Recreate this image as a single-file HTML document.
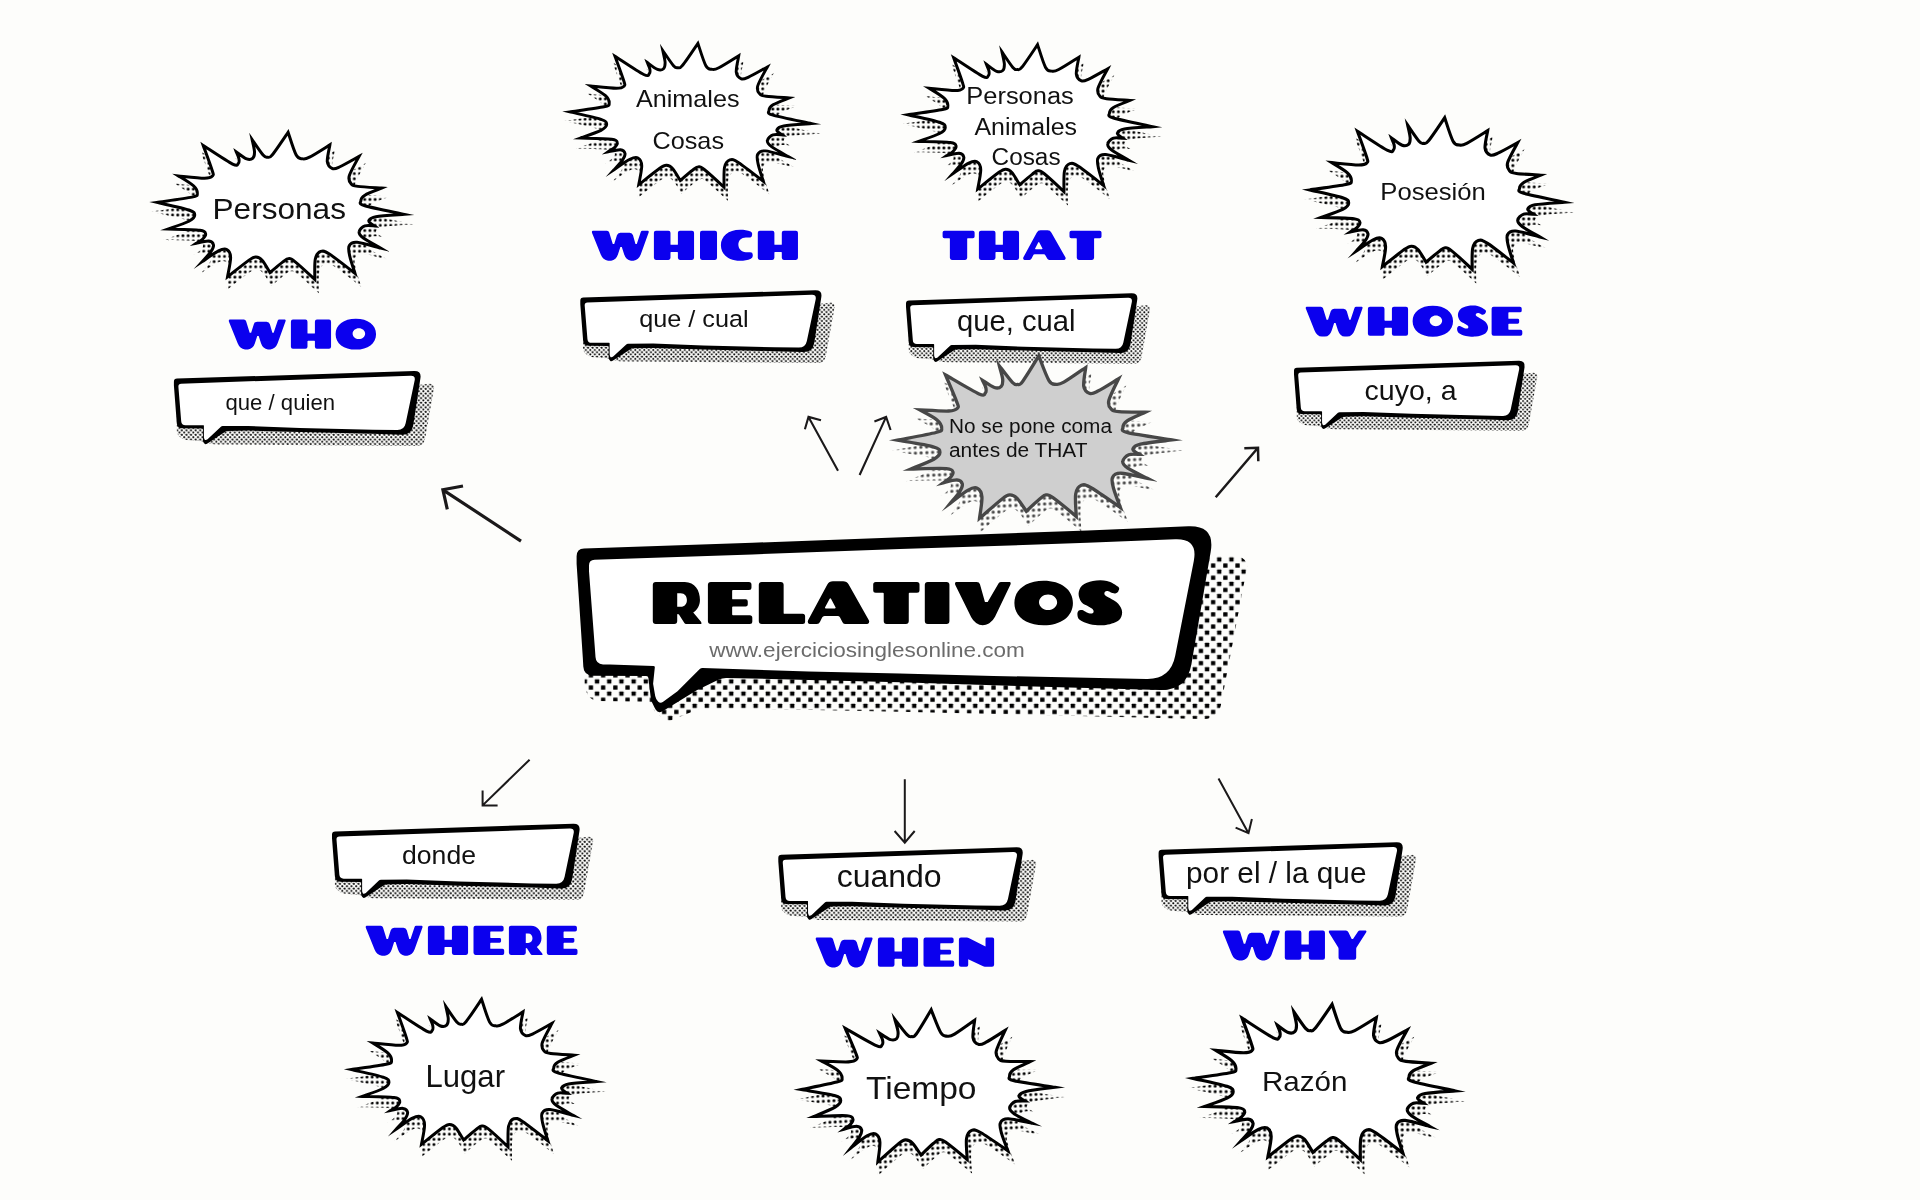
<!DOCTYPE html><html><head><meta charset="utf-8"><title>Relativos</title><style>html,body{margin:0;padding:0;background:#fdfdfb;}body{width:1920px;height:1200px;overflow:hidden;font-family:"Liberation Sans",sans-serif;}svg{display:block;position:absolute;left:0;top:0;will-change:transform;}text{font-family:"Liberation Sans",sans-serif;}</style></head><body>
<svg width="1920" height="1200" viewBox="0 0 1920 1200">
<defs>
<pattern id="dots" width="4.6" height="4.6" patternUnits="userSpaceOnUse"><rect x="0.25" y="0.25" width="1.85" height="1.85" rx="0.45" fill="#000"/><rect x="2.55" y="2.55" width="1.85" height="1.85" rx="0.45" fill="#000"/></pattern>
<pattern id="bdots" width="4.9" height="4.9" patternUnits="userSpaceOnUse"><rect x="1.2" y="1.2" width="2.5" height="2.5" rx="0.4" fill="#000"/></pattern>
<pattern id="cdots" width="12.2" height="12.2" patternUnits="userSpaceOnUse" patternTransform="translate(3 2)"><rect x="0.2" y="0.2" width="4.3" height="4.3" rx="0.5" fill="#000"/><rect x="6.3" y="6.3" width="4.3" height="4.3" rx="0.5" fill="#000"/></pattern>
<pattern id="bdotsg" width="4.9" height="4.9" patternUnits="userSpaceOnUse"><rect x="1.2" y="1.2" width="2.5" height="2.5" rx="0.4" fill="#4a4a4a"/></pattern>
<radialGradient id="fade" cx="0.5" cy="0.47" r="0.65"><stop offset="0.7" stop-color="#fff"/><stop offset="1" stop-color="#000"/></radialGradient>
<path id="gH" d="M0 7Q0 0 7 0L50 0Q57 0 57 7L57 46Q57 48 59 48L80.5 48Q82.5 48 82.5 46L82.5 7Q82.5 0 89.5 0L131 0Q138 0 138 7L138 93Q138 100 131 100L89.5 100Q82.5 100 82.5 93L82.5 74.5Q82.5 72.5 80.5 72.5L59 72.5Q57 72.5 57 74.5L57 93Q57 100 50 100L7 100Q0 100 0 93Z"/>
<path id="gI" d="M0 7Q0 0 7 0L51.5 0Q58.5 0 58.5 7L58.5 93Q58.5 100 51.5 100L7 100Q0 100 0 93Z"/>
<path id="gE" d="M0 7Q0 0 7 0L97.5 0Q103.5 0 103.5 6L103.5 13.5Q103.5 19.5 97.5 19.5L59.6 19.5Q57.6 19.5 57.6 21.5L57.6 39.5Q57.6 41.5 59.6 41.5L89.7 41.5Q94.7 41.5 94.7 46.5L94.7 53.5Q94.7 58.5 89.7 58.5L59.6 58.5Q57.6 58.5 57.6 60.5L57.6 77Q57.6 79 59.6 79L99.5 79Q105.5 79 105.5 85L105.5 94Q105.5 100 99.5 100L7 100Q0 100 0 93Z"/>
<path id="gL" d="M0 7Q0 0 7 0L52 0Q59 0 59 7L59 73.7Q59 75.7 61 75.7L104 75.7Q110 75.7 110 81.7L110 94Q110 100 104 100L7 100Q0 100 0 93Z"/>
<path id="gT" d="M0 6Q0 0 6 0L104 0Q110 0 110 6L110 19.7Q110 25.7 104 25.7L86.5 25.7Q84.5 25.7 84.5 27.7L84.5 93Q84.5 100 77.5 100L32 100Q25 100 25 93L25 27.7Q25 25.7 23 25.7L6 25.7Q0 25.7 0 19.7Z"/>
<path id="gA" d="M45.7 6.4Q50 -1.5 59 -1.5L83 -1.5Q92 -1.5 96.4 6.3L144.3 91.1Q146 94 144.5 97L144.5 97Q143 100 139.6 100L89 100Q84 100 81.7 95.6L75.9 84.5Q74 81 70 81L39 81Q35 81 33.3 84.6L28.1 95.5Q26 100 21 100L4.2 100Q1 100 -0.2 97L-0.2 97Q-1.5 94 0 91.1ZM50.9 40.5Q52.8 37 54.7 40.5L65.1 60.3Q66.5 63 63.5 63L42 63Q39 63 40.4 60.4Z"/>
<path id="gV" d="M-1.5 2.5Q-1 0 1.5 0L50 0Q56 0 57.6 5.8L69.5 48L76 48L102 3.5Q104 0 108 0L127.9 0Q130 0 130.5 2L130.5 2Q131 4 130.1 5.9L93.4 82.9Q89 92 80.5 97.5L78.7 98.7Q72 103 64 103L64 103Q56 103 49.5 98.3L48.5 97.5Q41 92 36.9 83.7L-0.9 7.3Q-2 5 -1.5 2.5Z"/>
<path id="gW" d="M-1.5 2.5Q-1 0 1.5 0L50 0Q56 0 57.8 5.7L70 45L75 45L84.3 15.6Q87 7 96 7L128 7Q137 7 139.5 15.6L148 45L152.5 45L166.2 3.8Q167.5 0 171.5 0L190.9 0Q193 0 193.5 2L193.5 2Q194 4 193.3 5.9L166.1 81.5Q163 90 156.5 96.2L156.5 96.2Q150 102.5 141 102.5L132.7 102.5Q124 102.5 118 96.2L118 96.2Q112 90 109.3 81.8L101 56L96 56L87.7 81.8Q85 90 79 96.2L79 96.2Q73 102.5 64.3 102.5L54 102.5Q45 102.5 38.5 96.2L38.5 96.2Q32 90 28.7 81.6L-1.1 7.4Q-2 5 -1.5 2.5Z"/>
<path id="gN" d="M0 7Q0 0 7 0L28 0Q31 0 33.7 1.4L91.5 31L91.5 5Q91.5 0 96.5 0L115 0Q121 0 121 6L121 93Q121 100 114 100L89 100Q86 100 83.3 98.7L32 74L32 94Q32 100 26 100L7 100Q0 100 0 93Z"/>
<path id="gY" d="M-1.5 2.5Q-1 0 1.5 0L57 0Q63 0 65.6 5.4L77 28.5L81.5 28.5L98.7 3.3Q101 0 105 0L124.9 0Q127 0 127.5 2L127.5 2Q128 4 126.9 5.7L94 57.5Q92.4 60 92.4 63L92.4 93Q92.4 100 85.4 100L38.8 100Q31.8 100 31.8 93L31.8 63Q31.8 60 30.2 57.4L-0.7 7.2Q-2 5 -1.5 2.5Z"/>
<path id="gO" d="M0 50C0 18.2 27.8 -3 69.5 -3C111.2 -3 139 18.2 139 50C139 81.8 111.2 103 69.5 103C27.8 103 0 81.8 0 50ZM58.5 48.5C58.5 38.3 68.1 30 80 30C91.9 30 101.5 38.3 101.5 48.5C101.5 58.7 91.9 67 80 67C68.1 67 58.5 58.7 58.5 48.5Z"/>
<path id="gC" d="M107.5 10Q107.5 22.7 100 22.7L86 22.7C70 22.7 60 33 60 47.5C60 62 70 73.5 86 73.5L101 73.5Q109.5 73.5 109.5 82L109.5 87Q109.5 93 103 96C92 101 80 103 66 103C25 103 0 80 0 49.6C0 19 25 -4 66 -4C80 -4 92 -2 102 2Q107.5 4.5 107.5 10Z"/>
<path id="gS" d="M97.7 11.7C102.2 15.8 99 19.4 98 22C97 24.6 94.3 26.2 92 27C89.7 27.8 87.3 27.3 84.3 26.5C81.3 25.7 77 22.4 74 22C71 21.6 67.3 22.5 66 24C64.7 25.5 64.1 28.6 66 31C67.9 33.4 72.3 35 77.6 38.5C82.9 42 92.8 46.2 97.7 51.8C102.6 57.4 107 65.2 107 71.9C107 78.6 104.8 86.9 97.7 92C90.6 97.1 75.4 101.3 64.2 102.7C53.1 104.1 40.5 102.4 30.8 100.3C21.1 98.2 11 93.9 6 90C1 86.1 1 80.7 0.7 77C0.4 73.3 2.1 69.7 4 68C5.9 66.3 9 66.3 12 67C15 67.7 18.5 70.6 22 72C25.5 73.4 30.2 75.3 33 75.3C35.8 75.3 38.3 73.7 39 72C39.7 70.3 39 67.2 37 65C35 62.8 31.4 61.2 27 58.5C22.6 55.8 14.6 53.5 10.7 48.5C6.8 43.5 3.3 35.1 3.5 28.4C3.7 21.7 6.3 13.5 12 8.4C17.7 3.3 27.7 -0.5 37.5 -2.3C47.3 -4.1 60.9 -4.6 70.9 -2.3C80.9 0 93.2 7.6 97.7 11.7Z"/>
<path id="gR" d="M7 0L76 0C100 0 112 20 112 43C112 56 106 66 96 72.7L114 94Q117 98 115 100L79 100Q76.5 100 75 97.5L62.5 78Q61 76 59.5 76Q58 76 58 78L58 93Q58 100 51 100L7 100Q0 100 0 93L0 7Q0 0 7 0ZM58 26.7L66 26.7C76 26.7 81 34 81 43C81 52 76 59.3 66 59.3L58 59.3Z"/>
<path id="bo" d="M63.1 25.4C68 28.5 86.6 41.1 92.5 44.1C98.4 47 97.3 44 98.4 43.1C99.4 42.2 99.1 40.5 98.8 38.6C98.4 36.7 96.6 33 96.2 31.9C97.9 33.1 103.8 37.9 106.6 39C109.3 40 111.5 39.4 112.8 38.2C114.1 37 114.5 34.7 114.4 31.6C114.2 28.5 112.4 21.5 112 19.5C113.8 22.1 120.4 32.1 123 35.1C125.6 38 125.9 37.3 127.5 37.2C129.1 37.1 128.9 38.8 132.3 34.7C135.8 30.5 145.4 16 148 12.2C149.3 16 153.7 30.7 156.1 35.1C158.5 39.5 160.1 38.4 162.3 38.8C164.6 39.1 164.8 39.5 169.4 37.2C174 34.9 186.4 26.9 189.8 24.8C189.4 27.6 186.8 37.8 187.2 41.7C187.6 45.7 190.3 47.7 192.4 48.6C194.5 49.4 195.4 48.8 199.8 46.8C204.3 44.8 215.8 38.1 219 36.4C217.3 39.6 210.6 51.2 209.2 55.8C207.9 60.3 209.3 61.8 210.8 63.6C212.2 65.4 212.7 65.7 217.8 66.5C222.9 67.2 237.5 67.9 241.5 68.2C238.7 69.4 228.3 73.1 224.8 75.3C221.4 77.5 220.7 79.4 220.7 81.2C220.7 82.9 217.6 83.6 224.8 85.9C232.1 88.1 257.8 93.1 264.4 94.6C259.6 95 241.7 96 235.8 97C229.8 98.1 229.5 99.7 228.8 100.9C228 102.2 230.5 103.5 231.5 104.4C232.5 105.3 234.1 105.9 234.6 106.3C233 106.2 227.5 105.2 224.8 106.2C222.2 107.1 219.2 110 219 112C218.7 114 219.7 115.5 223.3 118.3C226.9 121 237.5 126.7 240.4 128.4C236.5 127.5 222.3 123 217 122.6C211.8 122.2 210.3 123.8 209.1 126.1C207.8 128.4 208.6 131.6 209.6 136.2C210.6 140.9 214 150.9 214.9 153.8C210.7 150.6 195.4 138.4 189.7 134.7C184 131 183.1 131 180.7 131.8C178.3 132.6 176.2 134.7 175.2 139.4C174.2 144.1 174.8 156.4 174.7 159.9C171.4 156.8 158.9 145.2 154.5 141.7C150.1 138.2 150.3 138.9 148.3 139C146.3 139.1 145.6 140.2 142.5 142.5C139.4 144.8 132 151.2 129.9 153C128.6 151 124.5 143.5 122.2 140.9C119.9 138.3 118.2 137.5 115.9 137.4C113.7 137.4 113.7 137.2 108.9 140.5C104.1 143.9 91 154.5 87.4 157.3C87.9 154.1 90.7 142.4 90.5 137.8C90.4 133.2 88.7 131 86.6 129.8C84.6 128.7 82.5 129.1 78.4 131.2C74.3 133.2 64.8 140.2 62.1 142C63.5 140.4 68.7 135.1 70.6 132.3C72.5 129.6 73.7 127.1 73.4 125.3C73 123.5 71.5 121.7 68.7 121.4C65.8 121.1 58.3 123.1 56.2 123.5C57.2 122.8 60.9 121 62.4 119.5C64 117.9 66 115.8 65.5 114.4C65.1 112.9 66 111.5 59.7 110.6C53.4 109.8 33.1 109.6 27.7 109.4C31.2 108.1 44.3 103.8 48.8 101.5C53.2 99.2 54.6 97.5 54.6 95.6C54.6 93.7 55.1 92.3 48.8 90.2C42.4 88 22.1 83.9 16.8 82.6C22.6 81.7 45.1 78.7 51.9 77.3C58.6 75.8 56.9 75.6 57.2 73.8C57.4 71.9 56.6 68.9 53.4 65.9C50.3 63 40.9 57.6 38.3 56C42.7 56.4 58.7 58.3 64.4 58.3C70 58.3 71.1 57.5 72.3 56.2C73.6 54.8 73.6 55.4 72 50.3C70.5 45.2 64.6 29.6 63.1 25.4Z"/>
<mask id="bm" maskUnits="userSpaceOnUse" x="-20" y="-10" width="340" height="220"><rect x="-20" y="-10" width="340" height="220" fill="url(#fade)"/></mask>
<g id="b"><g mask="url(#bm)"><use href="#bo" fill="url(#bdots)" transform="translate(143.5 95.5) scale(1.06 1.06) translate(-141.5 -86)"/></g><use href="#bo" fill="#fff" stroke="#000" stroke-width="3" stroke-linejoin="miter" stroke-miterlimit="40"/></g>
<g id="bg"><g mask="url(#bm)"><use href="#bo" fill="url(#bdotsg)" transform="translate(143.5 95.5) scale(1.06 1.06) translate(-141.5 -86)"/></g><use href="#bo" fill="#cfcfcf" stroke="#474747" stroke-width="3" stroke-linejoin="miter" stroke-miterlimit="40"/></g>
<g id="bub"><path d="M3 41Q3 40 4 39.9L255.5 12.1Q257.5 11.9 259.1 13.2L259.1 13.2Q260.6 14.5 260.2 16.5L251.1 67.7Q250.6 70.5 248.6 72.5L248.6 72.5Q246.5 74.4 243.7 74.4L42 72.8Q40 72.8 38.1 72.3L30.9 70.3Q29 69.8 27 69.6L13 68.5Q9 68.2 6.2 65.3L4.4 63.4Q3 62 3 60Z" fill="url(#dots)"/><path d="M0.1 10.3Q0 7 3.3 6.9L240.4 -0.7Q247.7 -0.9 246.6 6.3L239.4 53.5Q237.9 63.4 227.9 63.1L199.2 62.2L126.2 60.4L74.5 58.9L53.6 59.3Q52.6 59.3 51.8 59.9L33.2 72.1Q31.6 73.2 30.4 71.7L30.1 71.4Q29.1 70.2 29.1 68.7L29.1 57.3Q29.1 56.8 28.6 56.8L8.4 56.6Q3.4 56.5 3 51.5L0.1 13.7Z" fill="#000"/><path d="M4.6 15.1Q4.4 12.1 7.4 12L236.8 4.1Q241.8 3.9 240.8 8.8L231.8 51.7Q230.4 58.6 223.4 58.5L199.2 58.2L126.2 56.3L74.5 54.3L48.8 54.5Q47.8 54.5 47.1 55.2L34 67.5Q33.4 68 32.6 68.2L32 68.4Q31.2 68.6 30.8 67.9L30.5 67.1Q30.1 66.4 30.1 65.6L30.1 54Q30.1 53.5 29.6 53.5L11.7 53.5Q7.7 53.5 7.4 49.5Z" fill="#fff"/></g>
</defs>
<use href="#bub" transform="translate(173.8 371.7) scale(1.0002 0.9986)"/>
<use href="#bub" transform="translate(580.2 290.9) scale(0.9778 0.9692)"/>
<use href="#bub" transform="translate(905.9 293.9) scale(0.9381 0.9385)"/>
<use href="#bub" transform="translate(1293.9 361.4) scale(0.9353 0.9315)"/>
<use href="#bub" transform="translate(331.9 824.4) scale(1.0040 1.0140)"/>
<use href="#bub" transform="translate(778.2 847.9) scale(0.9911 0.9902)"/>
<use href="#bub" transform="translate(1158.5 842.9) scale(0.9899 0.9902)"/>
<use href="#b" transform="translate(140.1 120.1) scale(1.0000 0.9966)"/>
<use href="#b" transform="translate(553.3 31.5) scale(0.9773 0.9738)"/>
<use href="#b" transform="translate(891.3 32.5) scale(0.9883 0.9953)"/>
<use href="#b" transform="translate(1292.5 105.2) scale(1.0285 1.0260)"/>
<use href="#b" transform="translate(334.8 987) scale(0.9917 0.9999)"/>
<use href="#b" transform="rotate(-3.3 928.9 1085.8) translate(784.1 997.5) scale(1.0235 1.0260)"/>
<use href="#b" transform="translate(1175.3 991.5) scale(1.0592 1.0514)"/>
<use href="#bg" transform="rotate(-2.8 1035.5 437.2) translate(878.8 342.8) scale(1.1078 1.0976)"/>
<path d="M584.7 620L1200 556L1235.4 556Q1240.5 556 1244.1 559.5L1244.2 559.5Q1247.8 563 1246.9 568L1221 704.7Q1219.8 711 1214.9 715.1L1214.9 715.1Q1210 719.2 1203.6 719L1181 718.4L900 711.8L752.5 708.8L702 708.5Q700 708.5 698.1 709.3L670.8 720.4Q668 721.5 665.6 719.7L656.6 713.2Q655 712 654.1 710.2L650.9 703.6Q650 701.8 648 701.8L598.5 700.9Q592 700.8 588.4 695.4L588.1 695Q584.7 690 584.7 684Z" fill="url(#cdots)"/><path d="M576.6 556.3Q576.6 548.8 584.1 548.5L752.5 542.8L921.3 536.4L1087.5 530.4L1188.3 526.3Q1215.3 525.2 1210.7 551.8L1191.4 664.2Q1186.8 690.8 1159.8 690L1087.5 687.9L993.8 685.3L900 682.3L808.8 680L726.5 677.9Q722.5 677.8 718.9 679.5L696.3 690.4L670 706.8L662.1 711.4Q658.2 713.6 655.8 709.8L654.5 707.6Q651.3 702.5 650.6 696.5L648.4 678Q648.2 676 646.2 676L592.9 675.7Q583.8 675.6 583.3 666.5L582.8 657.5L576.6 563.8Z" fill="#000"/><path d="M589 565.6Q589 560 594.6 559.8L752.5 554.4L900 549.1L1087.5 542.8L1175.2 539.2Q1198.2 538.3 1193.8 560.9L1175.2 655.8Q1170.6 679.4 1146.6 678.9L1087.5 677.8L993.8 675.9L900 673.4L808.8 671.6L702.9 667.9Q700.9 667.8 699.5 669.2L677.5 691.3L662.8 702Q660.4 703.8 658.3 701.7L658.1 701.5Q655.8 699.2 655.2 696L653.1 683.8L654.8 667.5Q655 666 653.5 666L610 664.6L603 664.4Q595.9 664.1 595.5 657.1L595 650L589 571.3Z" fill="#fff"/>
<g fill="none" stroke="#1b191a" stroke-linejoin="miter" stroke-linecap="butt">
<path d="M521 541.1L442.9 489.8M463 486L442.9 489.8L447.3 509.4" stroke-width="3.2"/>
<path d="M838 470.8L808.5 416.9M821 420.3L808.5 416.9L804.9 429.2" stroke-width="2.1"/>
<path d="M859.6 475L886.1 416.9M874.4 421.4L886.1 416.9L890.6 430" stroke-width="2.1"/>
<path d="M1215.7 497.3L1258 447.7M1244.3 448.3L1258 447.7L1258.3 461.3" stroke-width="2.5"/>
<path d="M529.6 759.7L482.6 805.4M482.6 790.4L482.6 805.4L497.6 805.4" stroke-width="2"/>
<path d="M904.8 779.3L904.8 842.6M894.6 831L904.8 842.6L914.7 831" stroke-width="2"/>
<path d="M1218.5 778.5L1248.5 833.2M1235.6 827.6L1248.5 833.2L1251.9 819.1" stroke-width="2"/>
</g>
<g fill="#0b00ee" fill-rule="evenodd"><use href="#gW" transform="translate(229.3 319.6) scale(0.2910)"/><use href="#gH" transform="translate(290.9 319.6) scale(0.2910)"/><use href="#gO" transform="translate(335.6 319.6) scale(0.2910)"/></g>
<g fill="#0b00ee" fill-rule="evenodd"><use href="#gW" transform="translate(592.4 230.8) scale(0.2910)"/><use href="#gH" transform="translate(653.9 230.8) scale(0.2910)"/><use href="#gI" transform="translate(700 230.8) scale(0.2910)"/><use href="#gC" transform="translate(720.9 230.8) scale(0.2910)"/><use href="#gH" transform="translate(757.8 230.8) scale(0.2910)"/></g>
<g fill="#0b00ee" fill-rule="evenodd"><use href="#gT" transform="translate(942.6 230.8) scale(0.2910)"/><use href="#gH" transform="translate(978.9 230.8) scale(0.2910)"/><use href="#gA" transform="translate(1023.4 230.8) scale(0.2910)"/><use href="#gT" transform="translate(1069.5 230.8) scale(0.2910)"/></g>
<g fill="#0b00ee" fill-rule="evenodd"><use href="#gW" transform="translate(1306.2 306.7) scale(0.2910)"/><use href="#gH" transform="translate(1367.9 306.7) scale(0.2910)"/><use href="#gO" transform="translate(1412.6 306.7) scale(0.2910)"/><use href="#gS" transform="translate(1456.9 306.7) scale(0.2910)"/><use href="#gE" transform="translate(1491.6 306.7) scale(0.2910)"/></g>
<g fill="#0b00ee" fill-rule="evenodd"><use href="#gW" transform="translate(366.2 925.8) scale(0.2910)"/><use href="#gH" transform="translate(427.9 925.8) scale(0.2910)"/><use href="#gE" transform="translate(473.5 925.8) scale(0.2910)"/><use href="#gR" transform="translate(508.9 925.8) scale(0.2910)"/><use href="#gE" transform="translate(546.8 925.8) scale(0.2910)"/></g>
<g fill="#0b00ee" fill-rule="evenodd"><use href="#gW" transform="translate(816.2 937.6) scale(0.2910)"/><use href="#gH" transform="translate(877.9 937.6) scale(0.2910)"/><use href="#gE" transform="translate(923.5 937.6) scale(0.2910)"/><use href="#gN" transform="translate(958.9 937.6) scale(0.2910)"/></g>
<g fill="#0b00ee" fill-rule="evenodd"><use href="#gW" transform="translate(1223.4 930.6) scale(0.2910)"/><use href="#gH" transform="translate(1284.8 930.6) scale(0.2910)"/><use href="#gY" transform="translate(1329.3 930.6) scale(0.2910)"/></g>
<g fill="#000" fill-rule="evenodd"><use href="#gR" transform="translate(652.8 581.9) scale(0.4210)"/><use href="#gE" transform="translate(707.9 581.9) scale(0.4210)"/><use href="#gL" transform="translate(758.8 581.9) scale(0.4210)"/><use href="#gA" transform="translate(808.1 581.9) scale(0.4210)"/><use href="#gT" transform="translate(873.2 581.9) scale(0.4210)"/><use href="#gI" transform="translate(924.8 581.9) scale(0.4210)"/><use href="#gV" transform="translate(955.7 581.9) scale(0.4210)"/><use href="#gO" transform="translate(1014.4 581.9) scale(0.4210)"/><use href="#gS" transform="translate(1077.1 581.9) scale(0.4210)"/></g>
<text x="212.5" y="218.9" font-size="29.6" textLength="133.5" lengthAdjust="spacingAndGlyphs" fill="#111">Personas</text><text x="636" y="106.7" font-size="24" textLength="103.5" lengthAdjust="spacingAndGlyphs" fill="#111">Animales</text><text x="652.5" y="149.3" font-size="24" textLength="71.5" lengthAdjust="spacingAndGlyphs" fill="#111">Cosas</text><text x="966.3" y="103.7" font-size="23.5" textLength="107.5" lengthAdjust="spacingAndGlyphs" fill="#111">Personas</text><text x="974.5" y="134.5" font-size="23.5" textLength="102.5" lengthAdjust="spacingAndGlyphs" fill="#111">Animales</text><text x="991.6" y="165.2" font-size="23.5" textLength="69" lengthAdjust="spacingAndGlyphs" fill="#111">Cosas</text><text x="1380.3" y="200.3" font-size="24" textLength="105.5" lengthAdjust="spacingAndGlyphs" fill="#111">Posesión</text><text x="425.5" y="1086.9" font-size="31.5" textLength="79.5" lengthAdjust="spacingAndGlyphs" fill="#111">Lugar</text><text x="866" y="1099.4" font-size="30.5" textLength="110.5" lengthAdjust="spacingAndGlyphs" fill="#111">Tiempo</text><text x="1262" y="1090.8" font-size="28.5" textLength="85.5" lengthAdjust="spacingAndGlyphs" fill="#111">Razón</text><text x="949" y="432.5" font-size="20" textLength="163" lengthAdjust="spacingAndGlyphs" fill="#111">No se pone coma</text><text x="949" y="456.7" font-size="20" textLength="138.5" lengthAdjust="spacingAndGlyphs" fill="#111">antes de THAT</text><text x="225.5" y="409.9" font-size="22.3" textLength="109.5" lengthAdjust="spacingAndGlyphs" fill="#111">que / quien</text><text x="639.2" y="327.4" font-size="24.3" textLength="109.5" lengthAdjust="spacingAndGlyphs" fill="#111">que / cual</text><text x="957" y="331.1" font-size="29.5" textLength="118.5" lengthAdjust="spacingAndGlyphs" fill="#111">que, cual</text><text x="1364.5" y="399.6" font-size="28.5" textLength="92" lengthAdjust="spacingAndGlyphs" fill="#111">cuyo, a</text><text x="402" y="864.3" font-size="25.8" textLength="74" lengthAdjust="spacingAndGlyphs" fill="#111">donde</text><text x="836.7" y="886.6" font-size="31" textLength="105" lengthAdjust="spacingAndGlyphs" fill="#111">cuando</text><text x="1186" y="883.3" font-size="29.5" textLength="180.5" lengthAdjust="spacingAndGlyphs" fill="#111">por el / la que</text><text x="709.3" y="657.2" font-size="20.3" textLength="315.5" lengthAdjust="spacingAndGlyphs" fill="#6b6b6b">www.ejerciciosinglesonline.com</text>
</svg></body></html>
